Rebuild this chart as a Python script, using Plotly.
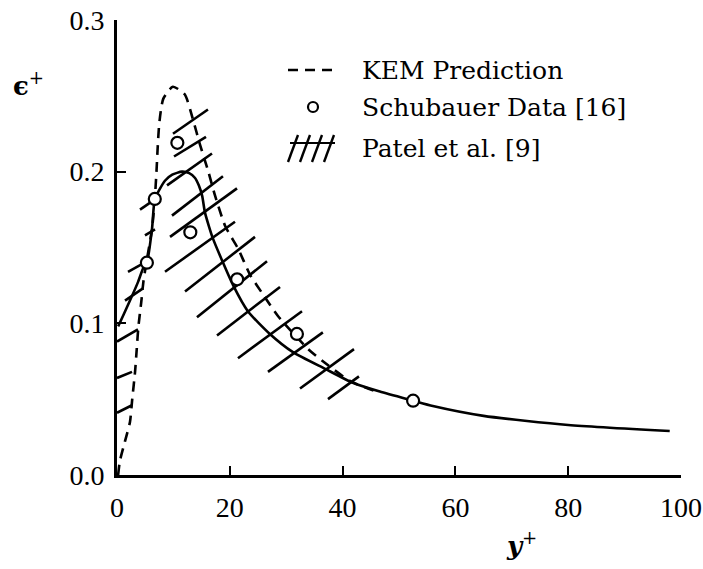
import plotly.graph_objects as go

# ---------------- data ----------------
# solid curve (model prediction)
solid_x = [0.2, 1.2, 2.3, 3.7, 4.6, 5.3, 6.2, 6.7, 7.5, 8.5, 9.8, 11.5, 12.8, 13.8, 14.5,
           15.1, 15.6, 16.3, 17.0, 18.8, 20.6, 23.2, 27.1, 31.2, 36.9, 41.7, 46.6, 52.5,
           56.0, 65.0, 80.0, 98.0]
solid_y = [0.098, 0.106, 0.115, 0.127, 0.136, 0.140, 0.162, 0.182, 0.188, 0.194, 0.198,
           0.200, 0.199, 0.196, 0.191, 0.184, 0.173, 0.164, 0.156, 0.140, 0.125, 0.108,
           0.093, 0.081, 0.070, 0.061, 0.055, 0.049, 0.0455, 0.039, 0.033, 0.029]

# KEM prediction (dashed)
kem_x = [0.2, 0.5, 1.4, 2.3, 2.7, 3.2, 3.5, 3.8, 4.3, 4.7, 5.3, 6.2, 6.7, 7.0, 7.2, 7.5,
         8.2, 9.9, 12.0, 13.5, 14.7, 16.2, 17.4, 19.2, 21.5, 23.6, 25.9, 28.5, 33.9,
         37.2, 41.3, 46.0]
kem_y = [0.0, 0.009, 0.022, 0.035, 0.050, 0.068, 0.083, 0.098, 0.114, 0.128, 0.142,
         0.162, 0.182, 0.200, 0.215, 0.232, 0.248, 0.256, 0.251, 0.234, 0.218, 0.200,
         0.184, 0.164, 0.149, 0.132, 0.119, 0.105, 0.083, 0.073, 0.062, 0.055]

# Schubauer data [16]
sch_x = [5.3, 6.7, 10.7, 13.0, 21.3, 31.9, 52.5]
sch_y = [0.140, 0.182, 0.219, 0.160, 0.129, 0.093, 0.049]

# Patel et al. [9] band, drawn as hatch strokes (start / end of each stroke)
patel_x0 = [0.0, 0.0, 0.0, 1.42, 1.95, 4.96, 4.08, 9.93, 10.11, 8.87, 9.75, 9.40,
            8.51, 12.06, 14.18, 17.73, 21.45, 26.77, 32.45, 37.41]
patel_y0 = [0.041, 0.064, 0.088, 0.115, 0.134, 0.158, 0.175, 0.225, 0.210, 0.191,
            0.171, 0.157, 0.134, 0.121, 0.104, 0.092, 0.077, 0.068, 0.057, 0.050]
patel_x1 = [2.66, 2.66, 3.72, 4.61, 5.85, 6.74, 7.62, 16.13, 15.78, 16.84, 18.79,
            21.28, 20.92, 24.47, 26.60, 28.90, 32.80, 36.50, 42.02, 42.90]
patel_y1 = [0.046, 0.068, 0.096, 0.123, 0.142, 0.162, 0.184, 0.241, 0.223, 0.212,
            0.197, 0.189, 0.167, 0.157, 0.141, 0.124, 0.108, 0.094, 0.083, 0.065]

x_ticks = [0, 20, 40, 60, 80, 100]
y_ticks = [0.0, 0.1, 0.2, 0.3]
legend_labels = ["KEM Prediction", "Schubauer Data [16]", "Patel et al. [9]"]

# ---------------- layout helpers ----------------
W, H = 703, 569
L, R, T, B = 117, 22, 20, 94
PW, PH = W - L - R, H - T - B


def px(xp):
    return (xp - L) / PW


def py(yp):
    return (H - B - yp) / PH


FONT = "DejaVu Serif"
TICKFONT = "Liberation Serif"
INK = "black"

fig = go.Figure()

# hatch strokes
hx, hy = [], []
for a, b, c, d in zip(patel_x0, patel_y0, patel_x1, patel_y1):
    hx += [a, c, None]
    hy += [b, d, None]
fig.add_trace(go.Scatter(x=hx, y=hy, mode="lines", name=legend_labels[2],
                         line=dict(color=INK, width=2.6), showlegend=False,
                         hoverinfo="skip"))

fig.add_trace(go.Scatter(x=kem_x, y=kem_y, mode="lines", name=legend_labels[0],
                         line=dict(color=INK, width=2.6, dash="10px,7px", shape="spline",
                                   smoothing=0.6),
                         showlegend=False))

fig.add_trace(go.Scatter(x=solid_x, y=solid_y, mode="lines", name="Prediction",
                         line=dict(color=INK, width=2.6, shape="spline", smoothing=0.6),
                         showlegend=False))

fig.add_trace(go.Scatter(x=sch_x, y=sch_y, mode="markers", name=legend_labels[1],
                         marker=dict(symbol="circle", size=12, color="white",
                                     line=dict(color=INK, width=2.2)),
                         showlegend=False, cliponaxis=False))

# ---------------- manual legend ----------------
shapes = []
ann = []
rows = [70, 107, 148]
text_x = 360
# dashed sample
shapes.append(dict(type="line", xref="paper", yref="paper", x0=px(288), x1=px(334),
                   y0=py(rows[0]), y1=py(rows[0]),
                   line=dict(color=INK, width=2.6, dash="10px,7px")))
# circle sample
shapes.append(dict(type="circle", xref="paper", yref="paper",
                   x0=px(308), x1=px(318), y0=py(rows[1] + 5), y1=py(rows[1] - 5),
                   line=dict(color=INK, width=2.2), fillcolor="white"))
# hatch sample
for k in range(4):
    x_start = 288 + k * 12
    shapes.append(dict(type="line", xref="paper", yref="paper",
                       x0=px(x_start), x1=px(x_start + 10),
                       y0=py(rows[2] + 14), y1=py(rows[2] - 13),
                       line=dict(color=INK, width=2.4)))
shapes.append(dict(type="line", xref="paper", yref="paper", x0=px(290), x1=px(335),
                   y0=py(rows[2] - 5), y1=py(rows[2] - 5),
                   line=dict(color=INK, width=2.2)))

for lab, r in zip(legend_labels, rows):
    ann.append(dict(text=lab, xref="paper", yref="paper", x=px(text_x), y=py(r),
                    xanchor="left", yanchor="middle", showarrow=False,
                    font=dict(family=FONT, size=25, color=INK)))

# axis titles
ann.append(dict(text="<b>ϵ</b><sup>+</sup>", xref="paper", yref="paper",
                x=px(28), y=py(84), xanchor="center", yanchor="middle", showarrow=False,
                font=dict(family=FONT, size=26, color=INK)))
ann.append(dict(text="<b><i>y</i></b><sup>+</sup>", xref="paper", yref="paper",
                x=px(521), y=py(544), xanchor="center", yanchor="middle", showarrow=False,
                font=dict(family=FONT, size=26, color=INK)))

fig.update_layout(
    width=W, height=H,
    margin=dict(l=L, r=R, t=T, b=B, pad=0, autoexpand=False),
    paper_bgcolor="white", plot_bgcolor="white",
    showlegend=False,
    shapes=shapes, annotations=ann,
    font=dict(family=FONT, color=INK),
)
fig.update_xaxes(range=[0, 100], tickvals=x_ticks, ticks="inside", ticklen=9, tickwidth=2,
                 tickcolor=INK, showline=True, linecolor=INK, linewidth=2.6,
                 showgrid=False, zeroline=False, ticklabelstandoff=6,
                 ticklabeloverflow="allow", automargin=False,
                 tickfont=dict(family=TICKFONT, size=28, color=INK))
fig.update_yaxes(range=[0, 0.3], tickvals=y_ticks, tickformat=".1f", ticks="inside",
                 ticklen=9, tickwidth=2, tickcolor=INK, showline=True, linecolor=INK,
                 linewidth=2.6, showgrid=False, zeroline=False, ticklabelstandoff=4,
                 ticklabeloverflow="allow", automargin=False,
                 tickfont=dict(family=TICKFONT, size=28, color=INK))

fig.write_html("out.html")
